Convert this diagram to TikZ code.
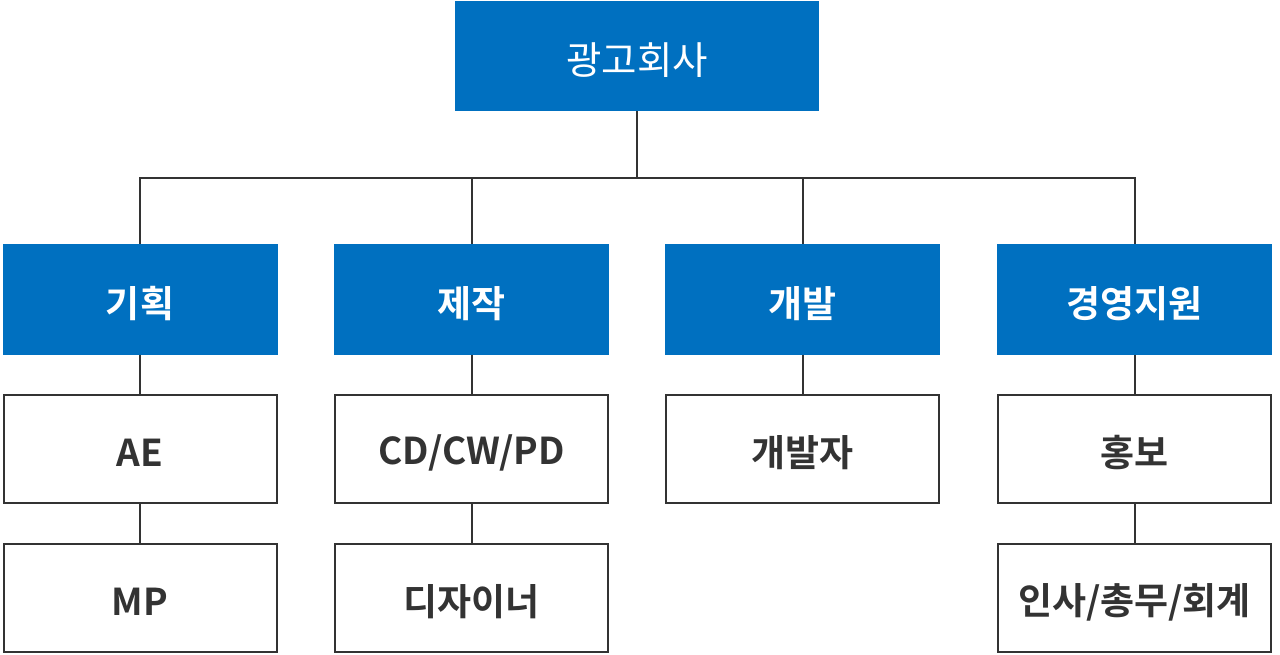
\documentclass[tikz,border=0pt]{standalone}
\usepackage{fontspec}
\newfontfamily\kr{Noto Sans CJK KR}
\newfontfamily\krb{Noto Sans CJK KR Bold}
\definecolor{hdblue}{HTML}{0070C0}
\definecolor{lnc}{HTML}{333333}
\definecolor{txc}{HTML}{333333}
\begin{document}
\begin{tikzpicture}[x=1pt,y=-1pt,
  topbox/.style={rectangle,fill=hdblue,inner sep=0,minimum width=364pt,minimum height=110pt,text=white,font=\kr\fontsize{38.5}{44}\selectfont},
  deptbox/.style={rectangle,fill=hdblue,inner sep=0,minimum width=275pt,minimum height=110pt,text=white,font=\krb\fontsize{37}{44}\selectfont},
  subbox/.style={rectangle,draw=lnc,line width=2pt,fill=white,inner sep=0,minimum width=273pt,minimum height=108pt,text=txc,font=\krb\fontsize{37}{44}\selectfont},
  conn/.style={draw=lnc,line width=2pt},
  lbl/.style={yshift=-4pt}]
\useasboundingbox (0,0) rectangle (1280,655);
\node[topbox] (top) at (637,56) {};
\node[deptbox] (d1) at (140,299.5) {};
\node[deptbox] (d2) at (471.5,299.5) {};
\node[deptbox] (d3) at (802.5,299.5) {};
\node[deptbox] (d4) at (1134.5,299.5) {};
\node[subbox] (s1) at (140,448.5) {};
\node[subbox] (s2) at (471.5,448.5) {};
\node[subbox] (s3) at (802.5,448.5) {};
\node[subbox] (s4) at (1134.5,448.5) {};
\node[subbox] (t1) at (140,598) {};
\node[subbox] (t2) at (471.5,598) {};
\node[subbox] (t4) at (1134.5,598) {};
\node[lbl,text=white,font=\kr\fontsize{38.5}{44}\selectfont] (ltop) at (top) {광고회사};
\node[lbl,text=white,font=\krb\fontsize{37}{44}\selectfont] (ld1) at (d1) {기획};
\node[lbl,text=white,font=\krb\fontsize{37}{44}\selectfont] (ld2) at (d2) {제작};
\node[lbl,text=white,font=\krb\fontsize{37}{44}\selectfont] (ld3) at (d3) {개발};
\node[lbl,text=white,font=\krb\fontsize{37}{44}\selectfont] (ld4) at (d4) {경영지원};
\node[lbl,text=txc,font=\krb\fontsize{37}{44}\selectfont] (ls1) at (s1) {AE};
\node[lbl,text=txc,font=\krb\fontsize{37}{44}\selectfont] (ls2) at (s2) {CD/CW/PD};
\node[lbl,text=txc,font=\krb\fontsize{37}{44}\selectfont] (ls3) at (s3) {개발자};
\node[lbl,text=txc,font=\krb\fontsize{37}{44}\selectfont] (ls4) at (s4) {홍보};
\node[lbl,text=txc,font=\krb\fontsize{37}{44}\selectfont] (lt1) at (t1) {MP};
\node[lbl,text=txc,font=\krb\fontsize{37}{44}\selectfont] (lt2) at (t2) {디자이너};
\node[lbl,text=txc,font=\krb\fontsize{37}{44}\selectfont] (lt4) at (t4) {인사/총무/회계};
\coordinate (bus) at (637,178);
\draw[conn] (top.south) -- (bus) -| (d1.north);
\draw[conn] (bus) -| (d2.north);
\draw[conn] (bus) -| (d3.north);
\draw[conn] (bus) -| (d4.north);
\draw[conn] (d1.south) -- (s1.north);
\draw[conn] (d2.south) -- (s2.north);
\draw[conn] (d3.south) -- (s3.north);
\draw[conn] (d4.south) -- (s4.north);
\draw[conn] (s1.south) -- (t1.north);
\draw[conn] (s2.south) -- (t2.north);
\draw[conn] (s4.south) -- (t4.north);
\end{tikzpicture}
\end{document}
